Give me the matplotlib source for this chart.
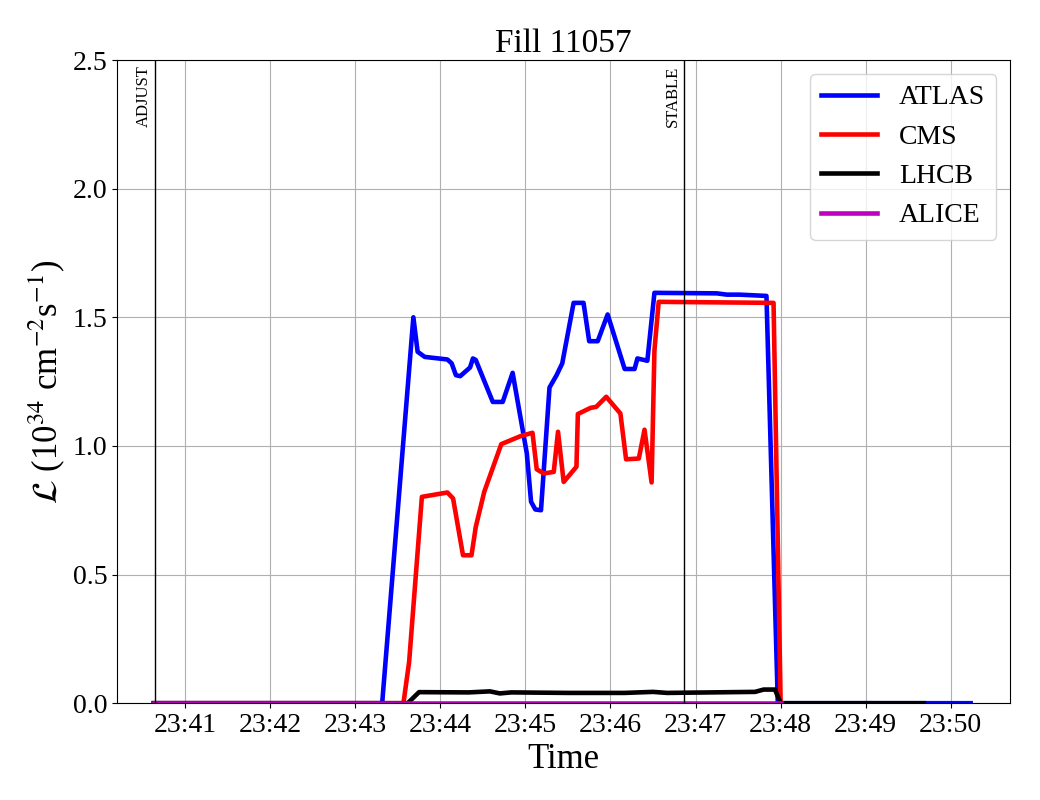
import pandas as pd
import numpy as np
import matplotlib
matplotlib.use('Agg')
import matplotlib.pyplot as plt
import matplotlib.dates as mdates

plt.rcParams['font.family'] = 'serif'
plt.rcParams['font.serif'] = ['Liberation Serif', 'DejaVu Serif']
plt.rcParams['mathtext.fontset'] = 'stix'

day = '2022-08-20 '

atlas_time = ['23:40:38', '23:43:19', '23:43:41', '23:43:44', '23:43:49', '23:44:05', '23:44:08',
              '23:44:11', '23:44:14', '23:44:21', '23:44:23', '23:44:25', '23:44:37', '23:44:44',
              '23:44:51', '23:45:01', '23:45:04', '23:45:07', '23:45:11', '23:45:17', '23:45:22',
              '23:45:26', '23:45:34', '23:45:41', '23:45:45', '23:45:51', '23:45:58', '23:46:10',
              '23:46:17', '23:46:19', '23:46:26', '23:46:31', '23:47:15', '23:47:22', '23:47:31',
              '23:47:50', '23:47:58', '23:50:14']
atlas_lumi = [0.0, 0.0, 1.50, 1.366, 1.346, 1.336, 1.321,
              1.275, 1.271, 1.305, 1.340, 1.334, 1.171, 1.171,
              1.284, 0.971, 0.783, 0.753, 0.750, 1.227, 1.275,
              1.321, 1.556, 1.556, 1.407, 1.407, 1.511, 1.299,
              1.299, 1.340, 1.331, 1.595, 1.593, 1.588, 1.588,
              1.583, 0.0, 0.0]

cms_time = ['23:40:38', '23:43:34', '23:43:38', '23:43:47', '23:44:05', '23:44:09', '23:44:16',
            '23:44:22', '23:44:25', '23:44:31', '23:44:43', '23:44:57', '23:45:05', '23:45:08',
            '23:45:13', '23:45:20', '23:45:23', '23:45:27', '23:45:36', '23:45:37', '23:45:46',
            '23:45:50', '23:45:57', '23:46:07', '23:46:11', '23:46:20', '23:46:24', '23:46:29',
            '23:46:31', '23:46:34', '23:47:55', '23:48:00']
cms_lumi = [0.0, 0.0, 0.16, 0.802, 0.819, 0.796, 0.575,
            0.575, 0.685, 0.822, 1.007, 1.039, 1.051, 0.909,
            0.893, 0.899, 1.055, 0.860, 0.919, 1.124, 1.148,
            1.152, 1.191, 1.126, 0.948, 0.951, 1.063, 0.858,
            1.372, 1.560, 1.556, 0.0]

lhcb_time = ['23:40:38', '23:43:37', '23:43:45', '23:44:20', '23:44:35', '23:44:42', '23:44:50',
             '23:45:30', '23:46:10', '23:46:30', '23:46:40', '23:47:42', '23:47:48', '23:47:56',
             '23:48:00', '23:49:41']
lhcb_lumi = [0.0, 0.0, 0.043, 0.042, 0.046, 0.038, 0.042,
             0.040, 0.040, 0.044, 0.040, 0.044, 0.053, 0.053,
             0.0, 0.0]

alice_time = ['23:40:38', '23:48:00']
alice_lumi = [0.0, 0.0]

series = [('ATLAS', atlas_time, atlas_lumi, 'b'),
          ('CMS', cms_time, cms_lumi, 'r'),
          ('LHCB', lhcb_time, lhcb_lumi, 'k'),
          ('ALICE', alice_time, alice_lumi, 'm')]

modes = {'ADJUST': '23:40:39', 'STABLE': '23:46:52'}

fig = plt.figure(figsize=(10.4, 8), dpi=100)
ax = fig.add_axes([0.1125, 0.121, 0.859, 0.804])

for name, t, lumi, col in series:
    ax.plot(pd.to_datetime([day + s for s in t]), lumi, color=col, lw=3.3, label=name)

for mode, t in modes.items():
    tm = pd.to_datetime(day + t)
    ax.axvline(tm, color='k', lw=1)
    ax.annotate(mode, xy=(tm, 1), xycoords=('data', 'axes fraction'),
                xytext=(-2.5, -4), textcoords='offset points',
                rotation=90, ha='right', va='top', fontsize=12)

ax.set_xlim(pd.to_datetime(day + '23:40:12'), pd.to_datetime(day + '23:50:42'))
ax.set_ylim(0, 2.5)
ax.xaxis.set_major_locator(mdates.MinuteLocator())
ax.xaxis.set_major_formatter(mdates.DateFormatter('%H:%M'))
ax.set_yticks(np.arange(0, 2.51, 0.5))
ax.tick_params(labelsize=20)
ax.grid(True)

ax.set_xlabel('Time', fontsize=25)
ax.set_ylabel(r'$\mathcal{L}$ (10$^{34}$ cm$^{-2}$s$^{-1}$)', fontsize=25)
ax.set_title('Fill 11057', fontsize=24)
ax.legend(loc='upper right', fontsize=20)

plt.savefig('out.png', dpi=100)
